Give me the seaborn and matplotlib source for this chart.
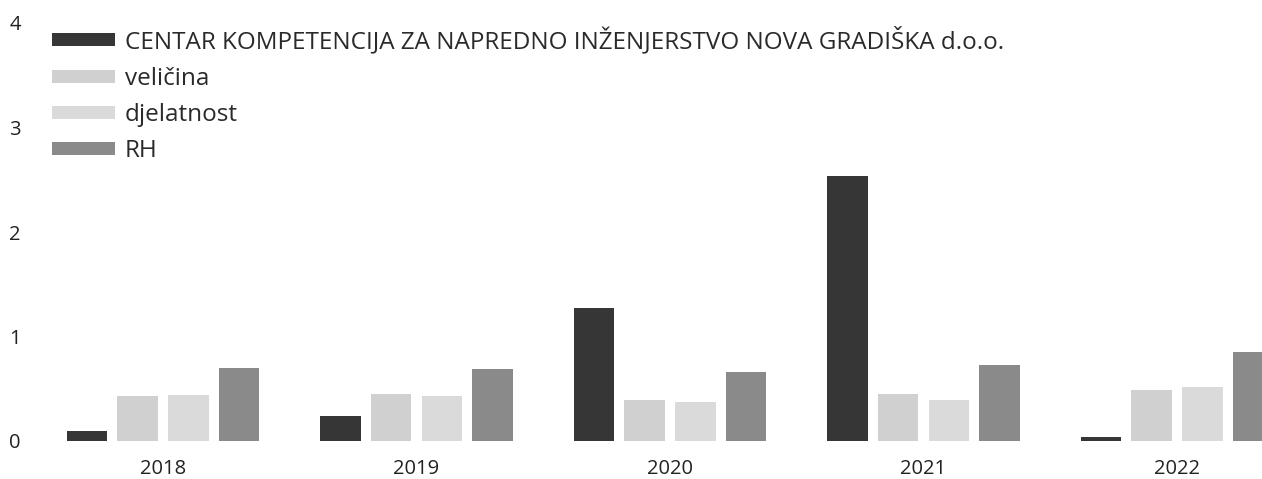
import pandas as pd
import matplotlib
matplotlib.use("Agg")
import matplotlib.pyplot as plt
import seaborn as sns

# Podaci (očitani s grafikona)
years = ["2018", "2019", "2020", "2021", "2022"]
series = [
    "CENTAR KOMPETENCIJA ZA NAPREDNO INŽENJERSTVO NOVA GRADIŠKA d.o.o.",
    "veličina",
    "djelatnost",
    "RH",
]
company = [0.10, 0.24, 1.27, 2.54, 0.04]
velicina = [0.43, 0.45, 0.39, 0.45, 0.49]
djelatnost = [0.44, 0.43, 0.37, 0.39, 0.52]
rh = [0.70, 0.69, 0.66, 0.73, 0.85]

colors = ["#363636", "#d0d0d0", "#dadada", "#8a8a8a"]

rows = []
for name, vals in zip(series, [company, velicina, djelatnost, rh]):
    for y, v in zip(years, vals):
        rows.append({"godina": y, "serija": name, "vrijednost": v})
df = pd.DataFrame(rows)

sns.set_style("white")
plt.rcParams["font.family"] = ["Open Sans", "DejaVu Sans"]

W, H = 1262, 479
fig = plt.figure(figsize=(W / 100, H / 100), dpi=100)
ax = fig.add_axes([36.25 / W, 38 / H, 1267.5 / W, 418 / H])

sns.barplot(data=df, x="godina", y="vrijednost", hue="serija",
            hue_order=series, palette=colors, width=0.8, gap=0.2,
            saturation=1, linewidth=0, ax=ax)

ax.set_xlim(-0.5, 4.5)
ax.set_ylim(0, 4)
ax.set_yticks([0, 1, 2, 3, 4])
ax.set_xlabel("")
ax.set_ylabel("")
sns.despine(ax=ax, left=True, bottom=True)
ax.tick_params(axis="both", length=0, labelsize=14.5, colors="#222222")
ax.tick_params(axis="y", pad=11)
ax.tick_params(axis="x", pad=13)

sns.move_legend(ax, "upper left", bbox_to_anchor=(52 / W, (H - 27) / H),
                bbox_transform=fig.transFigure, frameon=False, title=None,
                fontsize=17.5, handlelength=2.6, handleheight=0.45,
                handletextpad=0.4, labelspacing=0.5, borderpad=0,
                borderaxespad=0)
for t in ax.get_legend().get_texts():
    t.set_color("#2a2a2a")

fig.savefig("out.png", dpi=100)
